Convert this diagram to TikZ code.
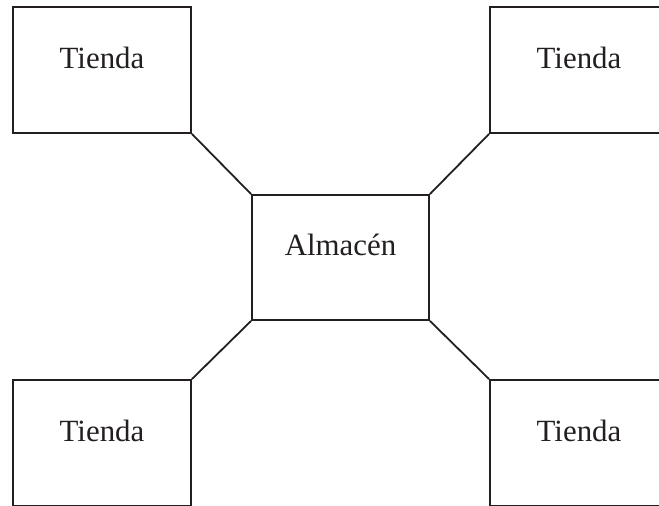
\documentclass[tikz,border=0pt]{standalone}
\usepackage{fontspec}
\setmainfont{Liberation Serif}
\definecolor{ink}{HTML}{231F20}
\begin{document}
\begin{tikzpicture}[x=1bp,y=-1bp,
  box/.style={draw=ink, text=ink, line width=1.8bp, minimum width=178bp, minimum height=126bp,
    inner sep=0pt, text height=20bp, text depth=23bp, font=\fontsize{31}{37}\selectfont},
  link/.style={draw=ink, line width=1.8bp}]
\useasboundingbox (0,0) rectangle (659,506);
\clip (0,0) rectangle (659,506);
\node[box] (tl) at (102,70) {Tienda};
\node[box] (tr) at (579,70) {Tienda};
\node[box] (bl) at (102,443) {Tienda};
\node[box] (br) at (579,443) {Tienda};
\node[box, minimum width=177bp, minimum height=125bp] (c) at (340.5,257.5) {Almacén};
\draw[link] (tl.south east) -- (c.north west);
\draw[link] (tr.south west) -- (c.north east);
\draw[link] (bl.north east) -- (c.south west);
\draw[link] (br.north west) -- (c.south east);
\end{tikzpicture}
\end{document}
